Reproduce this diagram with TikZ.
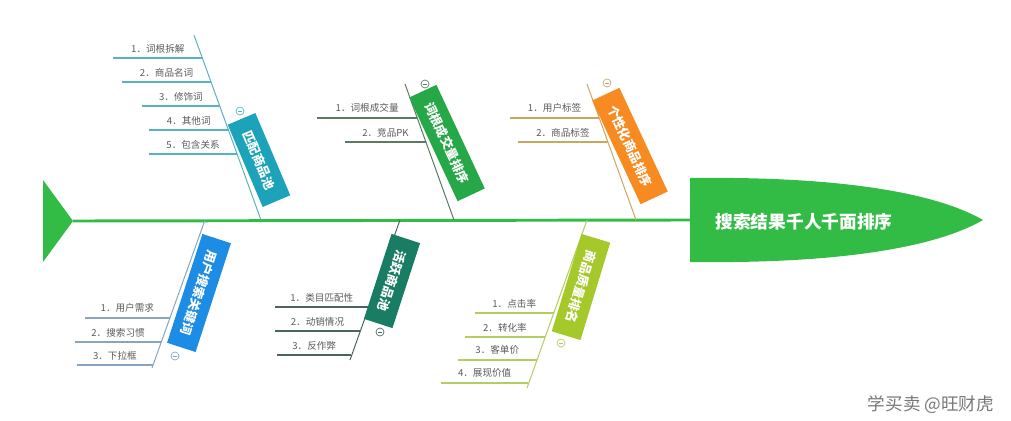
\documentclass[tikz,border=0pt]{standalone}
\usepackage{fontspec}
\newfontfamily\cjk{Noto Sans CJK SC}
\definecolor{spinegreen}{RGB}{50,188,70}
\definecolor{tealbox}{RGB}{28,163,185}
\definecolor{greenbox}{RGB}{38,168,72}
\definecolor{orangebox}{RGB}{247,138,32}
\definecolor{bluebox}{RGB}{28,140,228}
\definecolor{darkbox}{RGB}{25,125,100}
\definecolor{limebox}{RGB}{165,200,42}
\definecolor{tealline}{RGB}{90,178,190}
\definecolor{greenline}{RGB}{95,120,100}
\definecolor{orangeline}{RGB}{205,165,95}
\definecolor{blueline}{RGB}{135,165,190}
\definecolor{darkline}{RGB}{75,100,95}
\definecolor{limeline}{RGB}{180,205,95}
\definecolor{itemgray}{RGB}{90,90,90}
\definecolor{markgray}{RGB}{120,120,120}
\tikzset{
  topic/.style={fill=#1, text=white, font=\cjk\bfseries\fontsize{9.4}{10}\selectfont,
    minimum height=22.5pt, inner xsep=10pt, inner ysep=0pt},
  item/.style={text=itemgray, font=\cjk\fontsize{7.2}{8}\selectfont,
    anchor=south, inner sep=0pt, yshift=3.5pt},
  bone/.style={draw=#1, line width=0.75pt},
  leaf/.style={draw=#1, line width=0.8pt},
  marker/.style={circle, draw=#1, fill=white, inner sep=0pt, minimum size=6pt,
    line width=0.5pt, path picture={
      \draw[#1, line width=0.5pt] ([xshift=-1.6pt]path picture bounding box.center)
        -- ([xshift=1.6pt]path picture bounding box.center);}},
}
\begin{document}
\begin{tikzpicture}[x=0.75pt, y=-0.75pt]
  \useasboundingbox (0,0) rectangle (1011,421);
  % tail and head
  \coordinate (tail) at (73,221);
  \coordinate (neck) at (690,220);
  \fill[spinegreen] (43,180) -- (43,262) -- (tail) -- cycle;
  \fill[spinegreen] (690,178) .. controls (850,176) and (940,195) .. (983,220)
    .. controls (940,245) and (850,264) .. (690,262) -- cycle;
  \draw[spinegreen, line width=2.2pt] (tail) -- (neck);
  \node[text=white, font=\cjk\bfseries\fontsize{13.3}{15}\selectfont] (head) at (804,222) {搜索结果千人千面排序};
  % bones
  \coordinate (s1) at (261,220); \coordinate (e1) at (194,35);
  \coordinate (s2) at (454,220); \coordinate (e2) at (405,84);
  \coordinate (s3) at (636,220); \coordinate (e3) at (587,84);
  \coordinate (s4) at (205,220); \coordinate (e4) at (152,368);
  \coordinate (s5) at (400,220); \coordinate (e5) at (350,360);
  \coordinate (s6) at (587,220); \coordinate (e6) at (527,388);
  \draw[bone=tealline] (s1) -- (e1);
  \draw[bone=greenline] (s2) -- (e2);
  \draw[bone=orangeline] (s3) -- (e3);
  \draw[bone=blueline] (s4) -- (e4);
  \draw[bone=darkline] (s5) -- (e5);
  \draw[bone=limeline] (s6) -- (e6);
  % upper items
  \foreach \y/\xl/\t [count=\i] in {58/113/1．词根拆解, 82/122/2．商品名词, 106/142/3．修饰词, 130/149/4．其他词, 154/149/5．包含关系}{
    \pgfmathsetmacro\xr{261-0.36*(220-\y)}
    \coordinate (a1-\i) at (\xl,\y); \coordinate (b1-\i) at (\xr,\y);
    \draw[leaf=tealline] (a1-\i) -- (b1-\i) node[item, midway] (t1-\i) {\t};
  }
  \foreach \y/\xl/\t [count=\i] in {118/317/1．词根成交量, 142/345/2．竞品PK}{
    \pgfmathsetmacro\xr{454-0.36*(220-\y)}
    \coordinate (a2-\i) at (\xl,\y); \coordinate (b2-\i) at (\xr,\y);
    \draw[leaf=greenline] (a2-\i) -- (b2-\i) node[item, midway] (t2-\i) {\t};
  }
  \foreach \y/\xl/\t [count=\i] in {118/510/1．用户标签, 142/518/2．商品标签}{
    \pgfmathsetmacro\xr{636-0.36*(220-\y)}
    \coordinate (a3-\i) at (\xl,\y); \coordinate (b3-\i) at (\xr,\y);
    \draw[leaf=orangeline] (a3-\i) -- (b3-\i) node[item, midway] (t3-\i) {\t};
  }
  % lower items
  \foreach \y/\xl/\t [count=\i] in {318/85/1．用户需求, 342/75/2．搜索习惯, 365/77/3．下拉框}{
    \pgfmathsetmacro\xr{205-0.36*(\y-220)}
    \coordinate (a4-\i) at (\xl,\y); \coordinate (b4-\i) at (\xr,\y);
    \draw[leaf=blueline] (a4-\i) -- (b4-\i) node[item, midway] (t4-\i) {\t};
  }
  \foreach \y/\xl/\t [count=\i] in {307/275/1．类目匹配性, 331/275/2．动销情况, 355/277/3．反作弊}{
    \pgfmathsetmacro\xr{400-0.36*(\y-220)}
    \coordinate (a5-\i) at (\xl,\y); \coordinate (b5-\i) at (\xr,\y);
    \draw[leaf=darkline] (a5-\i) -- (b5-\i) node[item, midway] (t5-\i) {\t};
  }
  \foreach \y/\xl/\t [count=\i] in {313/475/1．点击率, 337/465/2．转化率, 360/458/3．客单价, 383/441/4．展现价值}{
    \pgfmathsetmacro\xr{587-0.36*(\y-220)}
    \coordinate (a6-\i) at (\xl,\y); \coordinate (b6-\i) at (\xr,\y);
    \draw[leaf=limeline] (a6-\i) -- (b6-\i) node[item, midway] (t6-\i) {\t};
  }
  % topics
  \node[topic=tealbox, rotate=-67] (m1) at (259,160) {匹配商品池};
  \node[topic=greenbox, rotate=-65] (m2) at (447,143) {词根成交量排序};
  \node[topic=orangebox, rotate=-65] (m3) at (630,146) {个性化商品排序};
  \node[topic=bluebox, rotate=-108] (m4) at (199,293) {用户搜索关键词};
  \node[topic=darkbox, rotate=-108] (m5) at (392,281) {活跃商品池};
  \node[topic=limebox, rotate=-107] (m6) at (581,287) {商品质量排名};
  % collapse markers
  \node[marker=tealline] (c1) at (240,111) {};
  \node[marker=greenline] (c2) at (425,84) {};
  \node[marker=orangeline] (c3) at (607,83) {};
  \node[marker=blueline] (c4) at (175,356) {};
  \node[marker=darkline] (c5) at (380,332) {};
  \node[marker=limeline] (c6) at (561,343) {};
  % watermark
  \node[text=markgray, font=\cjk\fontsize{13.2}{15}\selectfont] (mark) at (931,405) {学买卖 @旺财虎};
\end{tikzpicture}
\end{document}
